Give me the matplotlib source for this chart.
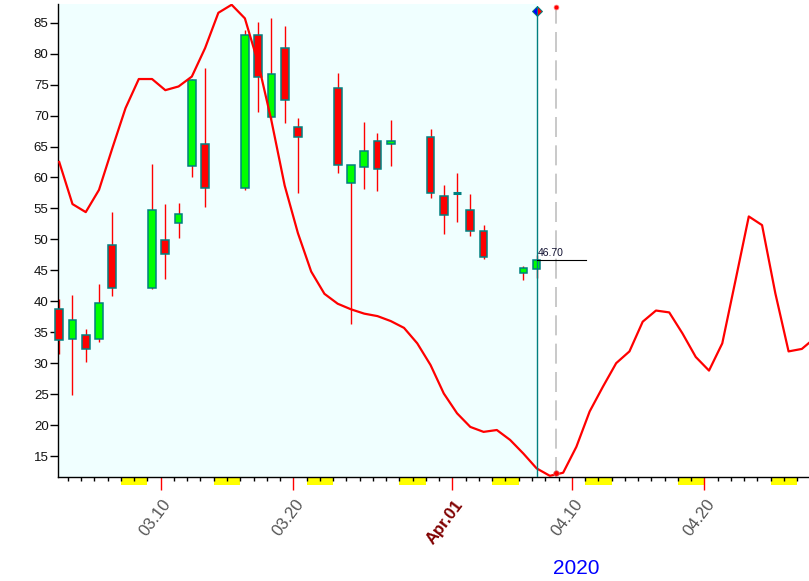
import numpy as np
import pandas as pd
import matplotlib
matplotlib.use('Agg')
import matplotlib.pyplot as plt
import matplotlib.transforms as mtransforms
from matplotlib.patches import Rectangle

plt.rcParams['font.family'] = ['Liberation Sans', 'DejaVu Sans']

# daily candles (trading days), 2020
candle_dates = ['2020-03-02', '2020-03-03', '2020-03-04', '2020-03-05', '2020-03-06',
                '2020-03-09', '2020-03-10', '2020-03-11', '2020-03-12', '2020-03-13',
                '2020-03-16', '2020-03-17', '2020-03-18', '2020-03-19', '2020-03-20',
                '2020-03-23', '2020-03-24', '2020-03-25', '2020-03-26', '2020-03-27',
                '2020-03-30', '2020-03-31', '2020-04-01', '2020-04-02', '2020-04-03',
                '2020-04-06', '2020-04-07']
opens = [38.70, 33.85, 34.50, 33.85, 49.09,
         42.19, 49.84, 52.59, 61.85, 65.35,
         58.25, 83.01, 69.72, 80.86, 68.10,
         74.40, 59.05, 61.74, 65.84, 65.35,
         66.49, 56.95, 57.54, 54.69, 51.30,
         44.52, 45.17]
highs = [40.36, 41.00, 35.50, 42.73, 54.47,
         62.17, 55.70, 55.92, 75.90, 77.70,
         83.80, 85.16, 85.70, 84.47, 69.60,
         76.80, 61.96, 68.96, 67.13, 69.28,
         67.83, 58.78, 60.72, 57.32, 52.27,
         45.70, 47.47]
lows = [31.47, 24.85, 30.20, 33.47, 40.90,
        41.98, 43.60, 50.17, 60.12, 55.27,
        57.97, 70.62, 69.50, 68.75, 57.54,
        60.67, 36.28, 58.18, 57.86, 61.90,
        56.73, 50.91, 52.85, 50.59, 46.83,
        43.43, 43.71]
closes = [33.74, 36.92, 32.24, 39.67, 42.19,
          54.69, 47.58, 54.05, 75.69, 58.25,
          83.01, 76.28, 76.71, 72.51, 66.49,
          62.00, 61.96, 64.27, 61.32, 65.84,
          57.44, 53.89, 57.54, 51.30, 47.10,
          45.32, 46.70]

# red line, one value per calendar day from Mar 2 to Apr 28
curve_start = '2020-03-02'
curve_vals = [62.5, 55.7, 54.4, 58.0, 64.7, 71.2, 75.9, 75.9, 74.1, 74.7,
              76.3, 80.9, 86.6, 87.9, 85.7, 78.5, 69.2, 58.7, 51.0, 44.8,
              41.2, 39.6, 38.7, 38.0, 37.6, 36.8, 35.7, 33.2, 29.7, 25.1,
              21.9, 19.7, 18.9, 19.2, 17.6, 15.4, 13.0, 11.8, 12.3, 16.5,
              22.2, 26.2, 30.0, 31.9, 36.7, 38.5, 38.2, 34.8, 31.0, 28.8,
              33.2, 43.4, 53.7, 52.3, 41.3, 31.9, 32.3, 34.1]

tick_dates = ['2020-03-10', '2020-03-20', '2020-04-01', '2020-04-10', '2020-04-20']
tick_labels = ['03.10', '03.20', 'Apr.01', '04.10', '04.20']
last_close = 46.70


def day_num(d):
    return (pd.Timestamp(d) - pd.Timestamp('2020-03-01')).days + 1


shift = 0.35
cx = np.array([day_num(d) for d in candle_dates]) + shift
curve_dates = pd.date_range(curve_start, periods=len(curve_vals), freq='D')
curve_x = np.array([day_num(d) for d in curve_dates]) + shift
x_last = cx[-1]
cursor_x = day_num('2020-04-08') + 0.83

xmin, xmax = 2.28, 58.89
ymin, ymax = 11.61, 88.02

fig = plt.figure(figsize=(8.09, 5.81), dpi=100)
ax = fig.add_axes([58.3 / 809, 1 - 477 / 581, 1 - 58.3 / 809, 473 / 581])
ax.set_xlim(xmin, xmax)
ax.set_ylim(ymin, ymax)

# light cyan history region
ax.axvspan(xmin, x_last, color='#F0FFFF', zorder=0, lw=0)

# candles
ax.vlines(cx, lows, highs, color='red', lw=1.0, zorder=2)
w = 0.58
for x, o, c in zip(cx, opens, closes):
    if c == o:
        ax.hlines(o, x - w / 2, x + w / 2, color='#008080', lw=2.2, zorder=3)
        continue
    fc = '#00FF00' if c > o else '#FF0000'
    ax.add_patch(Rectangle((x - w / 2, min(o, c)), w, abs(c - o), facecolor=fc,
                           edgecolor='#008080', lw=1.1, zorder=3, clip_on=False))

# red curve
ax.plot(curve_x, curve_vals, color='red', lw=1.6, zorder=4)

# last bar line + diamond
ax.plot([x_last, x_last], [ymin, 86.9], color='#008080', lw=1.0, zorder=5)
ax.plot(x_last, 86.9, marker='D', ms=5.2, fillstyle='left', markerfacecolor='blue',
        markerfacecoloralt='red', markeredgecolor='#008080', mew=0.7, zorder=6, clip_on=False)

# cursor
ax.plot([cursor_x, cursor_x], [ymin, 87.4], color='#C0C0C0', lw=1.2, dashes=(12, 5), zorder=1)
ax.plot(cursor_x, 87.5, marker='o', ms=3.5, color='red', mec='#ff8080', mew=0.5, zorder=6, clip_on=False)
ax.plot(cursor_x, 12.3, marker='o', ms=4, color='red', mec='#d08080', mew=0.5, zorder=6)

# last close label
ax.plot([x_last, 42.05], [last_close, last_close], color='black', lw=0.8, zorder=5)
ax.text(x_last + 0.08, last_close + 0.55, '%.2f' % last_close, fontsize=7.5,
        color='#101030', ha='left', va='baseline', zorder=6)

# axes styling
for s in ['top', 'right']:
    ax.spines[s].set_visible(False)
for s in ['left', 'bottom']:
    ax.spines[s].set_linewidth(1.0)
    ax.spines[s].set_color('black')

ax.set_yticks(range(15, 90, 5))
ax.tick_params(axis='y', length=6, width=1, pad=1, labelsize=9.5, labelcolor='#111111')

ax.set_xticks([day_num(d) for d in tick_dates])
ax.set_xticks(np.arange(3, 59), minor=True)
ax.tick_params(axis='x', which='major', length=9, width=1, color='red', labelbottom=False)
ax.tick_params(axis='x', which='minor', length=3, width=1, color='black')

# weekends
for d in curve_dates:
    if d.dayofweek == 5:
        x0 = day_num(d)
        ax.add_patch(Rectangle((x0, 0), 2, -0.017, transform=ax.get_xaxis_transform(),
                               facecolor='yellow', edgecolor='none', zorder=1, clip_on=False))

trans = mtransforms.offset_copy(ax.get_xaxis_transform(), fig=fig, x=7.5, y=-24.5, units='dots')
for d, lab in zip(tick_dates, tick_labels):
    bold = lab.startswith('Apr')
    ax.text(day_num(d), 0, lab, transform=trans, rotation=53, rotation_mode='anchor',
            ha='right', va='center', fontsize=12,
            color='#800000' if bold else '#555555',
            fontweight='bold' if bold else 'normal')

fig.text(576 / 809, 1 - 569 / 581, '2020', color='blue', fontsize=15, ha='center', va='center')

fig.savefig('out.png', dpi=100)
